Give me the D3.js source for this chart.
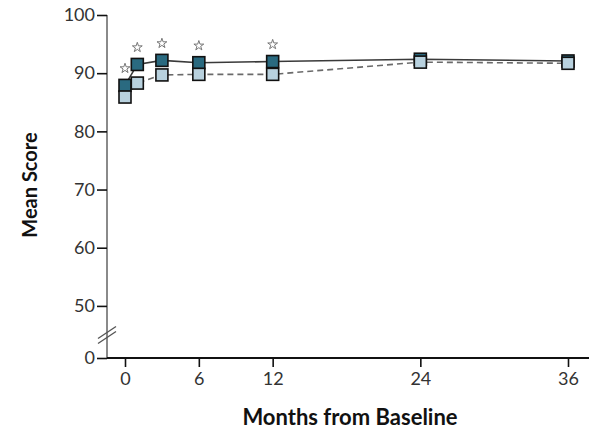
<!DOCTYPE html>
<head>
  <meta charset="utf-8">
  <style>
    body { margin: 0; background: #fff; }
    svg text { font-family: Lato, "Open Sans", sans-serif; }
    svg .tick text { font-size: 18px; fill: #333; }
    svg .tick line { stroke: #111; stroke-width: 1.6px; }
    svg .domain { display: none; }
  </style>
</head>
<body>
<script src="https://d3js.org/d3.v7.min.js"></script>
<script>
  // months from baseline and mean scores for the two groups
  var months      = [0, 1, 3, 6, 12, 24, 36];
  var darkScores  = [87.9, 91.5, 92.2, 91.8, 92.0, 92.4, 92.1];
  var lightScores = [85.9, 88.3, 89.7, 89.8, 89.8, 91.9, 91.7];
  var significant = [true, true, true, true, true, false, false];

  var xTicks = [0, 6, 12, 24, 36];
  var yTicks = [0, 50, 60, 70, 80, 90, 100];

  var W = 589, H = 431;

  var svg = d3.select("body")
    .append("svg")
      .attr("width", W)
      .attr("height", H);

  // scales -- y axis is broken between 0 and 50
  var x = d3.scaleLinear().domain([0, 36]).range([125, 568]);
  var y = d3.scaleLinear().domain([0, 45, 100]).range([358, 335, 15]);
  var axisX = 107;

  // y axis
  svg.append("line")
      .attr("x1", axisX).attr("x2", axisX)
      .attr("y1", y(100)).attr("y2", y(0))
      .style("stroke", "#8a8a8a")
      .style("stroke-width", "2px");

  svg.append("g")
      .attr("transform", "translate(" + axisX + ",0)")
      .call(d3.axisLeft(y).tickValues(yTicks).tickSize(10).tickPadding(2)
        .tickFormat(d3.format("d")));

  // break marks on y axis
  [-2.5, 2.5].forEach(function (o) {
    svg.append("line")
        .attr("x1", axisX - 9).attr("y1", y(45) + 6 + o)
        .attr("x2", axisX + 9).attr("y2", y(45) - 6 + o)
        .style("stroke", "#555")
        .style("stroke-width", "1.3px");
  });

  // x axis
  svg.append("line")
      .attr("x1", axisX).attr("x2", W)
      .attr("y1", y(0)).attr("y2", y(0))
      .style("stroke", "#111")
      .style("stroke-width", "2px");

  svg.append("g")
      .attr("transform", "translate(0," + y(0) + ")")
      .call(d3.axisBottom(x).tickValues(xTicks).tickSize(9).tickPadding(5));

  // axis titles
  svg.append("text")
      .attr("x", 350)
      .attr("y", 425)
      .text("Months from Baseline")
      .style("text-anchor", "middle")
      .style("font-size", "22px")
      .style("font-weight", "bold")
      .style("fill", "#111");

  svg.append("text")
      .attr("transform", "translate(37,185) rotate(-90)")
      .text("Mean Score")
      .style("text-anchor", "middle")
      .style("font-size", "20px")
      .style("font-weight", "bold")
      .style("fill", "#111");

  // lines
  var line = d3.line()
    .x(function (d) { return x(d[0]); })
    .y(function (d) { return y(d[1]); });

  svg.append("path")
      .attr("d", line(d3.zip(months, lightScores)))
      .style("fill", "none")
      .style("stroke", "#6a6a6a")
      .style("stroke-width", "1.6px")
      .style("stroke-dasharray", "6,4");

  svg.append("path")
      .attr("d", line(d3.zip(months, darkScores)))
      .style("fill", "none")
      .style("stroke", "#3a3a3a")
      .style("stroke-width", "1.6px");

  // square markers
  var s = 12;
  function squares(vals, fill) {
    svg.append("g").selectAll("rect")
      .data(d3.zip(months, vals))
      .enter().append("rect")
        .attr("x", function (d) { return x(d[0]) - s / 2; })
        .attr("y", function (d) { return y(d[1]) - s / 2; })
        .attr("width", s)
        .attr("height", s)
        .style("fill", fill)
        .style("stroke", "#111")
        .style("stroke-width", "1.6px");
  }
  squares(darkScores, "#2a6a80");
  squares(lightScores, "#b8d1de");

  // significance stars
  svg.append("g").selectAll("path")
    .data(d3.zip(months, darkScores, significant).filter(function (d) { return d[2]; }))
    .enter().append("path")
      .attr("d", d3.symbol().type(d3.symbolStar).size(30))
      .attr("transform", function (d) {
        return "translate(" + x(d[0]) + "," + (y(d[1]) - 17) + ")";
      })
      .style("fill", "#fff")
      .style("stroke", "#777")
      .style("stroke-width", "1px");
</script>
</body>
</html>
